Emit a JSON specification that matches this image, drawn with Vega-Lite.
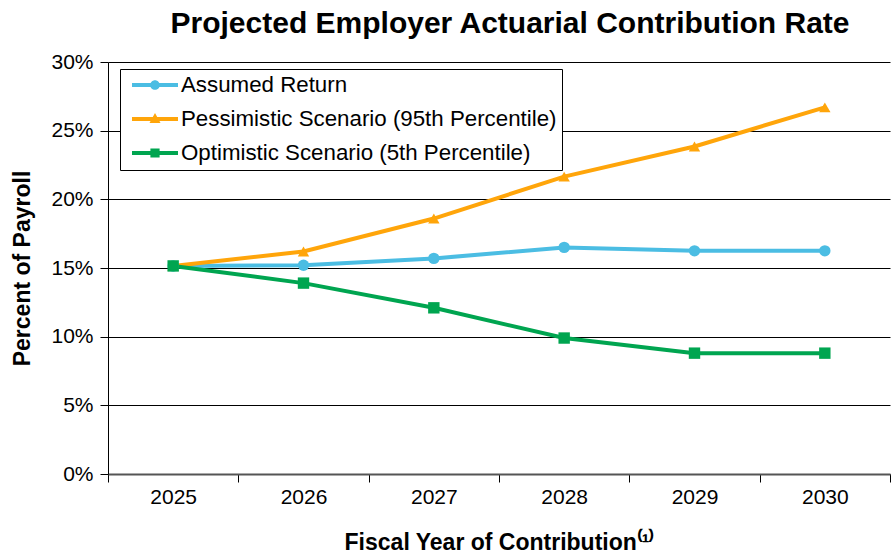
{
  "$schema": "https://vega.github.io/schema/vega-lite/v6.json",
  "width": 782,
  "height": 412,
  "autosize": "none",
  "padding": {"left": 108, "top": 62, "right": 4, "bottom": 80},
  "background": "white",
  "title": {
    "text": "Projected Employer Actuarial  Contribution Rate",
    "font": "Liberation Sans",
    "fontSize": 30,
    "fontWeight": "bold",
    "color": "#000000",
    "anchor": "middle",
    "dx": 11,
    "offset": 12
  },
  "config": {
    "view": {"stroke": null},
    "font": "Liberation Sans"
  },
  "data": {
    "values": [
      {"year": "2025", "series": "Assumed Return", "rate": 0.1515},
      {"year": "2026", "series": "Assumed Return", "rate": 0.1520},
      {"year": "2027", "series": "Assumed Return", "rate": 0.1570},
      {"year": "2028", "series": "Assumed Return", "rate": 0.1650},
      {"year": "2029", "series": "Assumed Return", "rate": 0.1625},
      {"year": "2030", "series": "Assumed Return", "rate": 0.1625},
      {"year": "2025", "series": "Pessimistic Scenario (95th Percentile)", "rate": 0.1515},
      {"year": "2026", "series": "Pessimistic Scenario (95th Percentile)", "rate": 0.1620},
      {"year": "2027", "series": "Pessimistic Scenario (95th Percentile)", "rate": 0.1860},
      {"year": "2028", "series": "Pessimistic Scenario (95th Percentile)", "rate": 0.2165},
      {"year": "2029", "series": "Pessimistic Scenario (95th Percentile)", "rate": 0.2385},
      {"year": "2030", "series": "Pessimistic Scenario (95th Percentile)", "rate": 0.2670},
      {"year": "2025", "series": "Optimistic Scenario (5th Percentile)", "rate": 0.1515},
      {"year": "2026", "series": "Optimistic Scenario (5th Percentile)", "rate": 0.1390},
      {"year": "2027", "series": "Optimistic Scenario (5th Percentile)", "rate": 0.1210},
      {"year": "2028", "series": "Optimistic Scenario (5th Percentile)", "rate": 0.0990},
      {"year": "2029", "series": "Optimistic Scenario (5th Percentile)", "rate": 0.0880},
      {"year": "2030", "series": "Optimistic Scenario (5th Percentile)", "rate": 0.0880}
    ]
  },
  "encoding": {
    "x": {
      "field": "year",
      "type": "ordinal",
      "scale": {"paddingInner": 0, "paddingOuter": 0},
      "axis": {
        "title": "Fiscal Year of Contribution⁽¹⁾",
        "titleFont": "Liberation Sans",
        "titleFontSize": 23,
        "titleFontWeight": "bold",
        "titleColor": "#000000",
        "titlePadding": 24,
        "labelAngle": 0,
        "labelFont": "Liberation Sans",
        "labelFontSize": 21,
        "labelColor": "#000000",
        "labelPadding": 4,
        "tickBand": "extent",
        "tickColor": "#000000",
        "tickSize": 8,
        "domainColor": "#555555",
        "domainWidth": 2
      }
    },
    "y": {
      "field": "rate",
      "type": "quantitative",
      "scale": {"domain": [0, 0.3], "nice": false},
      "axis": {
        "title": "Percent of Payroll",
        "titleFont": "Liberation Sans",
        "titleFontSize": 23,
        "titleFontWeight": "bold",
        "titleColor": "#000000",
        "titlePadding": 16,
        "format": ".0%",
        "values": [0, 0.05, 0.1, 0.15, 0.2, 0.25, 0.3],
        "labelFont": "Liberation Sans",
        "labelFontSize": 21,
        "labelColor": "#000000",
        "labelPadding": 7,
        "tickColor": "#000000",
        "tickSize": 8,
        "domainColor": "#000000",
        "grid": true,
        "gridColor": "#000000",
        "gridWidth": 1
      }
    },
    "color": {
      "field": "series",
      "type": "nominal",
      "scale": {
        "domain": ["Assumed Return", "Pessimistic Scenario (95th Percentile)", "Optimistic Scenario (5th Percentile)"],
        "range": ["#4BBDE3", "#FFA50A", "#00A550"]
      }
    }
  },
  "layer": [
    {
      "mark": {"type": "line", "strokeWidth": 4},
      "encoding": {
        "color": {
          "field": "series",
          "type": "nominal",
          "legend": {
            "title": null,
            "orient": "none",
            "legendX": 12,
            "legendY": 7,
            "padding": 5,
            "strokeColor": "#000000",
            "fillColor": "#ffffff",
            "labelFont": "Liberation Sans",
            "labelFontSize": 22.3,
            "labelColor": "#000000",
            "labelLimit": 600,
            "symbolSize": 2116,
            "clipHeight": 22,
            "symbolOffset": 7,
            "labelOffset": 3,
            "rowPadding": 11,
            "encode": {
              "symbols": {
                "update": {
                  "size": {"value": 2116},
                  "strokeWidth": {"value": 0},
                  "fill": {"signal": "scale('color', datum.value)"},
                  "fillOpacity": {"value": 1},
                  "opacity": {"value": 1},
                  "shape": {"signal": "datum.value === 'Assumed Return' ? 'M -1 -0.085 H 1 V 0.085 H -1 Z M -0.21 0 A 0.21 0.21 0 1 1 0.21 0 A 0.21 0.21 0 1 1 -0.21 0 Z' : datum.value === 'Optimistic Scenario (5th Percentile)' ? 'M -1 -0.085 H 1 V 0.085 H -1 Z M -0.2 -0.2 H 0.2 V 0.2 H -0.2 Z' : 'M -1 -0.085 H 1 V 0.085 H -1 Z M 0 -0.26 L 0.24 0.17 L -0.24 0.17 Z'"}
                }
              }
            }
          }
        }
      }
    },
    {
      "transform": [{"filter": "datum.series === 'Assumed Return'"}],
      "mark": {"type": "point", "shape": "circle", "filled": true, "opacity": 1, "size": 130}
    },
    {
      "transform": [{"filter": "datum.series === 'Pessimistic Scenario (95th Percentile)'"}],
      "mark": {"type": "point", "shape": "triangle-up", "filled": true, "opacity": 1, "size": 130}
    },
    {
      "transform": [{"filter": "datum.series === 'Optimistic Scenario (5th Percentile)'"}],
      "mark": {"type": "point", "shape": "square", "filled": true, "opacity": 1, "size": 130}
    }
  ]
}
